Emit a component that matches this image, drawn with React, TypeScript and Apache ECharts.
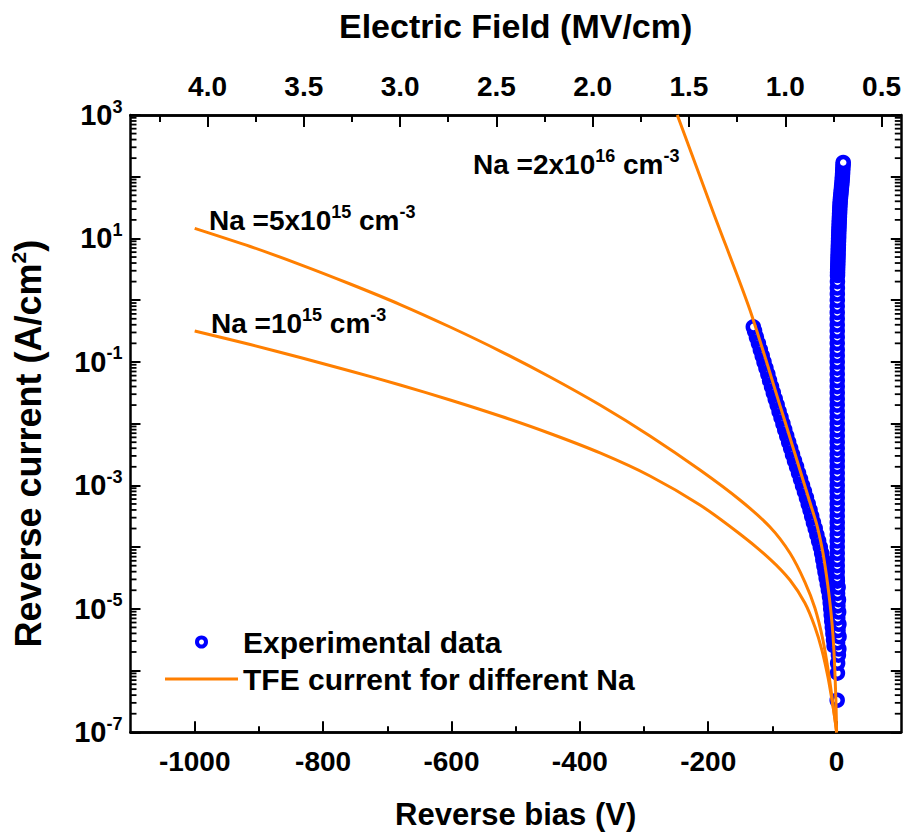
import React, { useEffect, useRef } from "react";
import * as echarts from "echarts";

const FONT = "'Liberation Sans', Arial, Helvetica, sans-serif";

// ---- axes ----
const biasMin = -1100;
const biasMax = 100;
const biasMajorTicks = [-1000, -800, -600, -400, -200, 0];
const biasMinorTicks = [-900, -700, -500, -300, -100];
const fieldMin = 0.4;
const fieldMax = 4.4;
const fieldMajorTicks = [4.0, 3.5, 3.0, 2.5, 2.0, 1.5, 1.0, 0.5];
const fieldMinorTicks = [4.25, 3.75, 3.25, 2.75, 2.25, 1.75, 1.25, 0.75];
const currentMin = 1e-7;
const currentMax = 1e3;
const minorMantissas = [2, 3, 4, 5, 6, 7, 8, 9];
const decadeExponents = [-7, -6, -5, -4, -3, -2, -1, 0, 1, 2];

// ---- TFE model curves (orange) ----
const tfe5e15Bias = [-1000, -913.4, -835.6, -757.7, -679.9, -602.1, -524.2, -446.4, -368.5, -290.7, -212.8, -150.6, -103.8, -72.7, -49.4, -33.8, -21.3, -12.0, -5.0, 0];
const tfe5e15Current = [14.6, 7.41, 3.78, 1.83, 0.851, 0.368, 0.15, 0.057, 0.02, 0.00631, 0.00177, 5.79e-4, 2.12e-4, 8.03e-5, 2.72e-5, 1.03e-5, 3.13e-6, 8.47e-7, 2.48e-7, 1e-7];

const tfe1e15Bias = [-1000, -913.4, -835.6, -757.7, -679.9, -602.1, -524.2, -446.4, -368.5, -290.7, -212.8, -150.6, -103.8, -72.7, -49.4, -33.8, -22.9, -13.5, -6.5, -1.9, 0];
const tfe1e15Current = [0.317, 0.191, 0.118, 0.0713, 0.0423, 0.0242, 0.0133, 0.00692, 0.00335, 0.00142, 4.81e-4, 1.63e-4, 6.41e-5, 2.93e-5, 1.24e-5, 5.08e-6, 2.15e-6, 7.87e-7, 2.99e-7, 1.47e-7, 1e-7];

const tfe2e16Bias = [-248.2, -192.4, -135.0, -86.0, -42.7, -30.7, -22.1, -15.9, -10.9, -6.9, -4.2, -2.2, -0.9, 0];
const tfe2e16Current = [1000, 26.9, 0.693, 0.0166, 5.79e-4, 2.28e-4, 8.97e-5, 3.53e-5, 1.39e-5, 5.47e-6, 2.15e-6, 7.03e-7, 2.77e-7, 1e-7];

// ---- experimental data (blue circles) ----
// reverse branch, from low bias to -130 V
const diagBias = [-3.9, -4.8, -5.8, -6.7, -7.6, -8.4, -9.2, -10.0, -11.1, -12.8, -14.5, -16.3, -18.1, -19.8, -21.5, -23.3, -25.4, -28.0, -30.7, -33.3, -36.1, -38.8, -41.4, -44.2, -47.0, -50.1, -53.1, -56.2, -59.3, -62.4, -65.6, -68.7, -71.6, -74.7, -77.7, -80.8, -83.6, -86.6, -89.6, -92.6, -95.6, -98.6, -101.4, -104.5, -107.1, -110.1, -113.1, -115.9, -118.8, -121.8, -124.9, -127.8, -129.8];
const diagCurrent = [2.51e-6, 3.16e-6, 3.98e-6, 5.01e-6, 6.31e-6, 7.94e-6, 1.0e-5, 1.26e-5, 1.58e-5, 2.0e-5, 2.51e-5, 3.16e-5, 3.98e-5, 5.01e-5, 6.31e-5, 7.94e-5, 1.0e-4, 1.26e-4, 1.58e-4, 2.0e-4, 2.51e-4, 3.16e-4, 3.98e-4, 5.01e-4, 6.31e-4, 7.94e-4, 1.0e-3, 1.26e-3, 1.58e-3, 2.0e-3, 2.51e-3, 3.16e-3, 3.98e-3, 5.01e-3, 6.31e-3, 7.94e-3, 0.01, 0.0126, 0.0158, 0.02, 0.0251, 0.0316, 0.0398, 0.0501, 0.0631, 0.0794, 0.1, 0.126, 0.158, 0.2, 0.251, 0.316, 0.37];

// near-zero / forward branch, bottom to top
const vertBias = [
  0.9, 1.3, 1.6, 2.8, 3.5, 1.5, 3.8, 2.2, 3.6, 1.8, 3.2, 2.0, 2.9, 1.5, 2.4, 1.2,
  1.0, 1.0, 1.0, 1.0, 1.0, 1.0, 1.0, 1.0, 1.0, 1.0, 1.0, 1.0, 1.0, 1.0, 1.0,
  1.0, 1.0, 1.0, 1.0, 1.0, 1.0, 1.0, 1.0, 1.0, 1.0, 1.0, 1.0, 1.0, 1.0, 1.0,
  1.0, 1.0, 1.0, 1.0, 1.0, 1.0, 1.0, 1.0, 1.0, 1.0, 1.0, 1.0, 1.0, 1.0, 1.0,
  1.1, 1.15, 1.2, 1.3, 1.4,
  1.5, 1.6, 1.75, 1.9, 2.05, 2.2, 2.35, 2.5, 2.65, 2.8, 2.95, 3.1, 3.25, 3.4, 3.6, 3.8, 4.0, 4.2, 4.4, 4.6,
  4.8, 5.0, 5.3, 5.6, 6.0, 6.5, 6.9, 7.4, 7.8, 8.3, 8.7, 9.0, 9.3, 9.5, 9.8, 10.1, 10.3,
];
const vertCurrent = [
  3.31e-7, 9.1e-7, 1.32e-6, 1.78e-6, 2.24e-6, 2.82e-6, 3.55e-6, 4.47e-6, 5.62e-6, 7.08e-6, 8.91e-6, 1.12e-5, 1.41e-5, 1.78e-5, 2.24e-5, 2.82e-5,
  3.16e-5, 3.98e-5, 5.01e-5, 6.31e-5, 7.94e-5, 1e-4, 1.26e-4, 1.58e-4, 2e-4, 2.51e-4, 3.16e-4, 3.98e-4, 5.01e-4, 6.31e-4, 7.94e-4,
  1e-3, 1.26e-3, 1.58e-3, 2e-3, 2.51e-3, 3.16e-3, 3.98e-3, 5.01e-3, 6.31e-3, 7.94e-3, 0.01, 0.0126, 0.0158, 0.02, 0.0251,
  0.0316, 0.0398, 0.0501, 0.0631, 0.0794, 0.1, 0.126, 0.158, 0.2, 0.251, 0.316, 0.398, 0.501, 0.631, 0.794,
  1.0, 1.26, 1.58, 2.0, 2.51,
  2.82, 3.16, 3.55, 3.98, 4.47, 5.01, 5.62, 6.31, 7.08, 7.94, 8.91, 10, 11.2, 12.6, 14.1, 15.8, 17.8, 20.0, 22.4, 25.1,
  28.2, 31.6, 35.5, 39.8, 44.7, 50.1, 56.2, 63.1, 70.8, 79.4, 89.1, 100, 112, 126, 141, 158, 170,
];

const EXP_NAME = "Experimental data";
const TFE_NAME = "TFE current for different Na";
const BLUE = "#0000ff";
const ORANGE = "#ff7f00";

const zip = (xs: number[], ys: number[]) => xs.map((x, i) => [x, ys[i]]);

export default function App() {
  const ref = useRef<HTMLDivElement>(null);

  useEffect(() => {
    if (!ref.current) return;
    const chart = echarts.init(ref.current, undefined, { renderer: "svg" });

    const minorLogTicks: number[] = [];
    decadeExponents.forEach((e) => minorMantissas.forEach((m) => minorLogTicks.push(m * Math.pow(10, e))));

    const axisLineStyle = { color: "#000", width: 2.5 };
    const tickStyle = { color: "#000", width: 2 };
    const labelBase = { fontFamily: FONT, fontWeight: "bold" as const, color: "#000" };

    const lineSeries = (bias: number[], cur: number[]) => ({
      type: "line",
      name: TFE_NAME,
      data: zip(bias, cur),
      symbol: "none",
      showSymbol: false,
      smooth: 0.25,
      lineStyle: { color: ORANGE, width: 3 },
      itemStyle: { color: ORANGE },
      z: 5,
      silent: true,
    });

    const diagData = zip(diagBias, diagCurrent).map((v, i) =>
      i === diagBias.length - 1 ? { value: v, itemStyle: { color: "#ffffff" } } : v
    );

    const annotRich = {
      a: { fontSize: 28, fontWeight: "bold", fontFamily: FONT, fill: "#000" },
      s: { fontSize: 18, fontWeight: "bold", fontFamily: FONT, fill: "#000", padding: [0, 0, 17, 0] },
    };

    const option: any = {
      animation: false,
      backgroundColor: "#fff",
      grid: { left: 130.5, right: 5.2, top: 115, bottom: 100.7, containLabel: false, outerBoundsMode: "none" },
      legend: {
        orient: "vertical",
        left: 160,
        top: 622,
        itemWidth: 73,
        itemHeight: 9,
        itemGap: 7,
        selectedMode: false,
        textStyle: { ...labelBase, fontSize: 30 },
        data: [
          { name: EXP_NAME, icon: "circle", itemStyle: { color: "#fff", borderColor: BLUE, borderWidth: 4, opacity: 1 } },
          { name: TFE_NAME, icon: "path://M0,0L73,0L73,3.2L0,3.2Z", itemStyle: { color: ORANGE, borderWidth: 0 } },
        ],
      },
      xAxis: [
        {
          type: "value",
          position: "bottom",
          min: biasMin,
          max: biasMax,
          axisLine: { onZero: false, lineStyle: axisLineStyle },
          axisTick: { inside: true, length: 11, customValues: biasMajorTicks, lineStyle: tickStyle },
          axisLabel: { ...labelBase, fontSize: 28, margin: 15, customValues: biasMajorTicks, formatter: (v: number) => String(v) },
          splitLine: { show: false },
          name: "Reverse bias (V)",
          nameLocation: "middle",
          nameGap: 67,
          nameTextStyle: { ...labelBase, fontSize: 31 },
        },
        {
          type: "value",
          position: "bottom",
          min: biasMin,
          max: biasMax,
          axisLine: { onZero: false, lineStyle: axisLineStyle },
          axisTick: { inside: true, length: 6, customValues: biasMinorTicks, lineStyle: tickStyle },
          axisLabel: { show: false },
          splitLine: { show: false },
        },
        {
          type: "value",
          position: "top",
          min: fieldMin,
          max: fieldMax,
          inverse: true,
          axisLine: { onZero: false, lineStyle: axisLineStyle },
          axisTick: { inside: true, length: 12, customValues: fieldMajorTicks, lineStyle: tickStyle },
          axisLabel: { ...labelBase, fontSize: 28, margin: 15, customValues: fieldMajorTicks, formatter: (v: number) => v.toFixed(1) },
          splitLine: { show: false },
          name: "Electric Field (MV/cm)",
          nameLocation: "middle",
          nameGap: 72,
          nameTextStyle: { ...labelBase, fontSize: 34 },
        },
        {
          type: "value",
          position: "top",
          min: fieldMin,
          max: fieldMax,
          inverse: true,
          axisLine: { onZero: false, lineStyle: axisLineStyle },
          axisTick: { inside: true, length: 7, customValues: fieldMinorTicks, lineStyle: tickStyle },
          axisLabel: { show: false },
          splitLine: { show: false },
        },
      ],
      yAxis: [
        {
          type: "log",
          logBase: 10,
          position: "left",
          min: currentMin,
          max: currentMax,
          interval: 1,
          splitNumber: 10,
          axisLine: { onZero: false, lineStyle: axisLineStyle },
          axisTick: { inside: true, length: 10, lineStyle: tickStyle },
          axisLabel: {
            margin: 8,
            formatter: (v: number) => {
              const e = Math.round(Math.log10(v));
              return e % 2 !== 0 ? `{b|10}{s|${e}}` : "";
            },
            rich: {
              b: { ...labelBase, fontSize: 29 },
              s: { ...labelBase, fontSize: 18, padding: [0, 0, 17, 0] },
            },
          },
          splitLine: { show: false },
          name: "{t|Reverse current (A/cm}{s|2}{t|)}",
          nameLocation: "middle",
          nameGap: 82,
          nameTextStyle: {
            padding: [0, 40, 0, 0],
            rich: {
              t: { ...labelBase, fontSize: 36 },
              s: { ...labelBase, fontSize: 21, padding: [0, 0, 20, 0] },
            },
          },
        },
        {
          type: "log",
          logBase: 10,
          position: "right",
          min: currentMin,
          max: currentMax,
          interval: 1,
          splitNumber: 10,
          axisLine: { onZero: false, lineStyle: axisLineStyle },
          axisTick: { inside: true, length: 10, lineStyle: tickStyle },
          axisLabel: { show: false },
          splitLine: { show: false },
        },
      ],
      series: [
        {
          type: "custom",
          name: "minor-ticks",
          silent: true,
          xAxisIndex: 0,
          yAxisIndex: 0,
          data: minorLogTicks.map((v) => [biasMin, v]),
          renderItem: (params: any, api: any) => {
            const cs = params.coordSys;
            const pt = api.coord([biasMin, api.value(1)]);
            const y = pt[1];
            const xl = cs.x;
            const xr = cs.x + cs.width;
            return {
              type: "group",
              children: [
                { type: "line", shape: { x1: xl, y1: y, x2: xl + 6, y2: y }, style: { stroke: "#000", lineWidth: 1.8 } },
                { type: "line", shape: { x1: xr - 6, y1: y, x2: xr, y2: y }, style: { stroke: "#000", lineWidth: 1.8 } },
              ],
            };
          },
          z: 10,
        },
        {
          type: "scatter",
          name: EXP_NAME,
          data: diagData,
          symbol: "circle",
          symbolSize: 11,
          itemStyle: { color: "rgba(255,255,255,0)", borderColor: BLUE, borderWidth: 4.5, opacity: 1 },
          emphasis: { disabled: true },
          silent: true,
          z: 2,
        },
        {
          type: "scatter",
          name: EXP_NAME,
          data: zip(vertBias, vertCurrent),
          symbol: "circle",
          symbolSize: 11,
          itemStyle: { color: "#ffffff", borderColor: BLUE, borderWidth: 4.5, opacity: 1 },
          emphasis: { disabled: true },
          silent: true,
          z: 3,
        },
        lineSeries(tfe5e15Bias, tfe5e15Current),
        lineSeries(tfe1e15Bias, tfe1e15Current),
        lineSeries(tfe2e16Bias, tfe2e16Current),
      ],
      graphic: [
        {
          type: "text",
          x: 209,
          y: 220.5,
          style: { text: "{a|Na =5x10}{s|15}{a| cm}{s|-3}", rich: annotRich, verticalAlign: "middle", align: "left" },
        },
        {
          type: "text",
          x: 211,
          y: 323,
          style: { text: "{a|Na =10}{s|15}{a| cm}{s|-3}", rich: annotRich, verticalAlign: "middle", align: "left" },
        },
        {
          type: "text",
          x: 473,
          y: 164,
          style: { text: "{a|Na =2x10}{s|16}{a| cm}{s|-3}", rich: annotRich, verticalAlign: "middle", align: "left" },
        },
      ],
    };

    chart.setOption(option);
    return () => chart.dispose();
  }, []);

  return (
    <div
      ref={ref}
      style={{ position: "absolute", left: 0, top: 0, width: 906, height: 833, background: "#fff" }}
    />
  );
}
